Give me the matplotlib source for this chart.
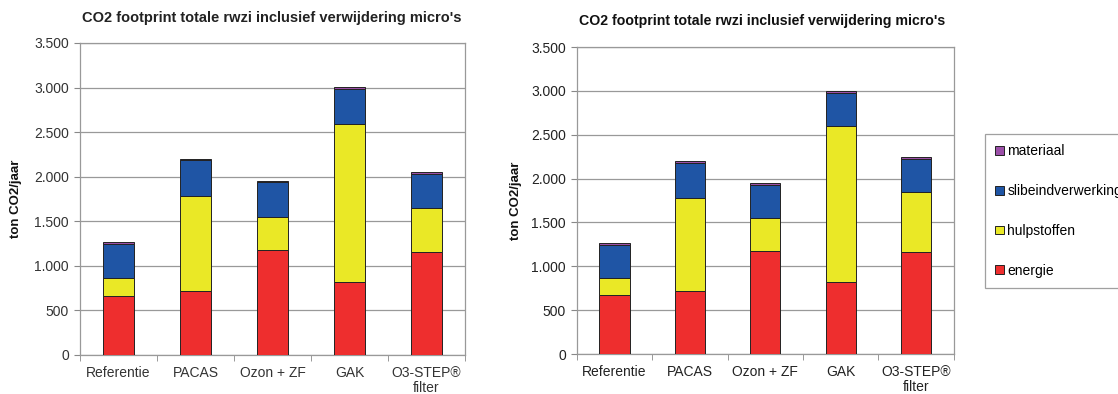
import matplotlib
matplotlib.use("Agg")
import matplotlib.pyplot as plt
import numpy as np

plt.rcParams['font.family'] = ['Liberation Sans', 'DejaVu Sans']

categories = ["Referentie", "PACAS", "Ozon + ZF", "GAK", "O3-STEP®\nfilter"]
series_names = ["energie", "hulpstoffen", "slibeindverwerking", "materiaal"]

# left panel (segment heights, ton CO2/jaar)
left_energie = [665, 717, 1173, 822, 1154]
left_hulpstoffen = [198, 1065, 374, 1774, 490]
left_slib = [381, 403, 388, 389, 388]
left_materiaal = [19, 12, 15, 22, 19]

# right panel
right_energie = [670, 716, 1172, 826, 1161]
right_hulpstoffen = [194, 1066, 374, 1770, 681]
right_slib = [381, 395, 384, 385, 381]
right_materiaal = [19, 19, 19, 22, 23]

yticks = [0, 500, 1000, 1500, 2000, 2500, 3000, 3500]
ytick_labels = ["0", "500", "1.000", "1.500", "2.000", "2.500", "3.000", "3.500"]
title = "CO2 footprint totale rwzi inclusief verwijdering micro's"
ylabel = "ton CO2/jaar"

colors = ["#EE2E2E", "#EAE826", "#1F55A5", "#9B4FA8"]

fig = plt.figure(figsize=(11.18, 3.94), dpi=100)
axL = fig.add_axes([0.0716, 0.099, 0.3444, 0.792])
axR = fig.add_axes([0.516, 0.1015, 0.337, 0.779])


def draw(ax, data, text_color, lab_x):
    x = np.arange(len(categories))
    bottom = np.zeros(len(categories))
    handles = []
    for vals, col, name in zip(data, colors, series_names):
        h = ax.bar(x, vals, bottom=bottom, width=0.4, color=col,
                   edgecolor="#222222", linewidth=0.7, label=name, zorder=3)
        handles.append(h)
        bottom = bottom + np.array(vals)
    ax.set_xlim(-0.5, len(categories) - 0.5)
    ax.set_ylim(0, 3500)
    ax.set_yticks(yticks)
    ax.set_yticklabels(ytick_labels)
    ax.yaxis.grid(True, color="#999999", linewidth=0.9, zorder=0)
    ax.set_axisbelow(True)
    ax.set_xticks(x)
    ax.set_xticklabels(categories, fontsize=10, color=text_color,
                       linespacing=1.1)
    ax.set_xticks(np.arange(-0.5, len(categories)), minor=True)
    ax.tick_params(axis="x", which="major", length=0, pad=8)
    ax.tick_params(axis="x", which="minor", length=4, color="#888888",
                   direction="out")
    ax.tick_params(axis="y", length=4, color="#888888", labelsize=10,
                   labelcolor=text_color, pad=4)
    for s in ax.spines.values():
        s.set_color("#999999")
        s.set_linewidth(0.9)
    ax.set_ylabel(ylabel, fontsize=9.5, fontweight="bold", color="#111111")
    ax.yaxis.set_label_coords(lab_x, 0.5)
    return handles


draw(axL, [left_energie, left_hulpstoffen, left_slib, left_materiaal],
     "#333333", -0.152)
handles = draw(axR, [right_energie, right_hulpstoffen, right_slib, right_materiaal],
               "#222222", -0.145)

fig.text(0.243, 0.955, title, ha="center", va="center", fontsize=10.5,
         fontweight="bold", color="#222222")
fig.text(0.682, 0.947, title, ha="center", va="center", fontsize=10.2,
         fontweight="bold", color="#111111")

leg = fig.legend(handles[::-1], series_names[::-1],
                 loc="upper left", bbox_to_anchor=(985 / 1118, 1 - 134 / 394),
                 frameon=True, fancybox=False, edgecolor="#888888",
                 fontsize=10, handlelength=0.6, handleheight=0.6,
                 handletextpad=0.25, labelspacing=1.85, borderpad=0.75,
                 borderaxespad=0)
leg.get_frame().set_linewidth(0.9)

fig.savefig("out.png", dpi=100)
